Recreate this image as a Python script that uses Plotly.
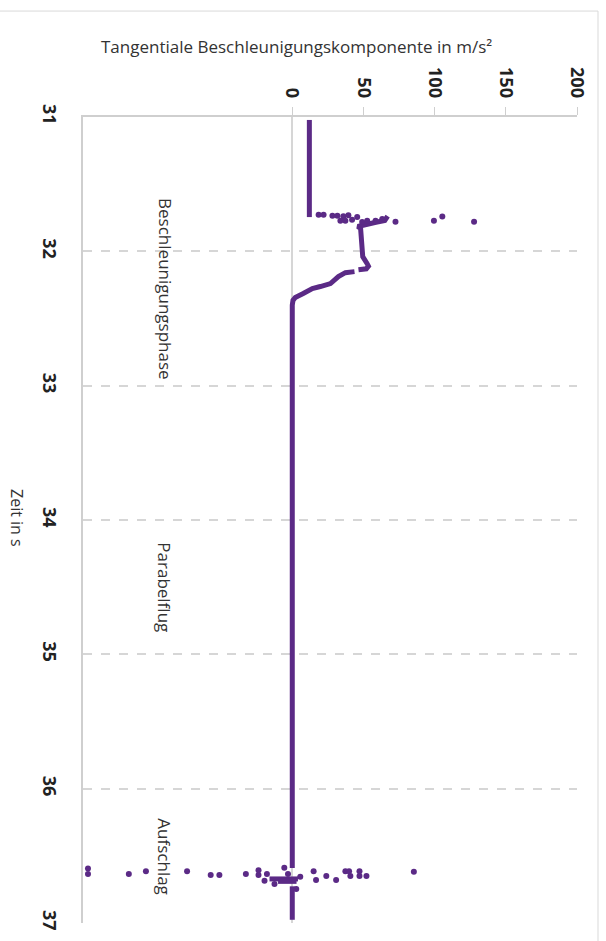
import plotly.graph_objects as go

# Main continuous signal (time in s, tangential acceleration in m/s^2); None separates segments
line_t = [31.022, 31.745, None,
          31.738, 31.770, 31.785, 31.800, 31.815, 31.830, 31.900, 32.040, 32.090, 32.110, 32.130, 32.137, None,
          32.151, 32.159, 32.188, 32.240, 32.262, 32.277, 32.314, 32.343, 32.365, 32.400, 36.590, None,
          36.672, 36.672, None,
          36.690, 36.690, None,
          36.727, 36.976]
line_v = [12, 12, None,
          67, 65, 58, 50, 46, 48, 48.5, 49.5, 52.5, 53.5, 52, 46.5, None,
          43.7, 37.3, 32.4, 26.8, 19.7, 14.1, 7.7, 2.1, 0.5, 0, 0, None,
          -16, 4, None,
          -10, 3, None,
          0, 0]

# Isolated noisy samples
dots_t = [31.728, 31.728, 31.736, 31.736, 31.738, 31.731, 31.773, 31.773, 31.765, 31.745,
          31.782, 31.773, 31.773, 31.760, 31.780, 31.773, 31.740, 31.780,
          36.594, 36.636, 36.636, 36.614, 36.614, 36.643, 36.643, 36.636, 36.607, 36.643,
          36.636, 36.685, 36.710, 36.589, 36.636, 36.655, 36.747, 36.614, 36.680, 36.651,
          36.680, 36.614, 36.614, 36.651, 36.614, 36.651, 36.651, 36.618]
dots_v = [18.5, 22.0, 28.2, 31.7, 35.9, 39.4, 33.8, 37.3, 42.0, 45.6,
          49.1, 52.6, 58.5, 63.2, 72.5, 99.5, 105.4, 127.7,
          -143.5, -143.5, -114.8, -102.8, -73.9, -57.3, -51.2, -32.6, -23.7, -23.7,
          -17.8, -19.5, -12.5, -5.6, -3.0, 5.6, 2.8, 15.0, 16.7, 23.9,
          30.8, 37.3, 39.9, 40.8, 47.2, 47.2, 52.1, 85.4]

value_ticks = [0, 50, 100, 150, 200]
time_ticks = [31, 32, 33, 34, 35, 36, 37]

phase_labels = ["Beschleunigungsphase", "Parabelflug", "Aufschlag"]
phase_t = [32.28, 34.50, 36.51]
phase_v = [-89.5, -89.5, -89.5]

purple = "#5b2a86"
grey = "#cfcfcf"

fig = go.Figure()
fig.add_trace(go.Scatter(x=line_v, y=line_t, mode="lines",
                         line=dict(color=purple, width=5), hoverinfo="skip"))
fig.add_trace(go.Scatter(x=dots_v, y=dots_t, mode="markers",
                         marker=dict(color=purple, size=6), hoverinfo="skip"))

for lab, t, v in zip(phase_labels, phase_t, phase_v):
    fig.add_annotation(x=v, y=t, text=lab, textangle=90, showarrow=False,
                       xanchor="center", yanchor="middle",
                       font=dict(family="Open Sans", size=17, color="#333333"))

fig.add_annotation(xref="paper", yref="paper", x=(296 - 83) / 494, y=(931 - 46) / 814,
                   xanchor="center", yanchor="middle",
                   text="Tangentiale Beschleunigungskomponente in m/s²", showarrow=False,
                   font=dict(family="Open Sans", size=17, color="#333333"))
fig.add_annotation(xref="paper", yref="paper", x=(17 - 83) / 494, y=(931 - 522) / 814,
                   xanchor="center", yanchor="middle",
                   text="Zeit in s", textangle=90, showarrow=False,
                   font=dict(family="Open Sans", size=16, color="#333333"))

# outer frame (top and right edges)
fig.add_shape(type="line", xref="paper", yref="paper", x0=-0.2, x1=(598 - 83) / 494,
              y0=(931 - 10) / 814, y1=(931 - 10) / 814, line=dict(color="#d9d9d9", width=1))
fig.add_shape(type="line", xref="paper", yref="paper", x0=(598 - 83) / 494, x1=(598 - 83) / 494,
              y0=-0.05, y1=(931 - 10) / 814, line=dict(color="#d9d9d9", width=1))

fig.update_xaxes(side="top", range=[-147, 200], tickvals=value_ticks, tickangle=90,
                 ticks="outside", ticklen=8, tickcolor=grey, showline=True, linecolor=grey,
                 linewidth=1.5, showgrid=False, zeroline=True, zerolinecolor="#d6d6d6",
                 zerolinewidth=2, ticklabelstandoff=3,
                 tickfont=dict(family="Open Sans", size=18, color="#222222", weight="bold"))
fig.update_yaxes(range=[37, 31], tickvals=time_ticks, tickangle=90, ticks="",
                 showline=True, linecolor=grey, linewidth=1.5, showgrid=True, gridcolor="#d6d6d6",
                 griddash="dash", gridwidth=1.5, zeroline=False, ticklabelstandoff=17,
                 tickfont=dict(family="Open Sans", size=18, color="#222222", weight="bold"))

fig.update_layout(width=606, height=941, margin=dict(l=83, r=29, t=117, b=10),
                  paper_bgcolor="white", plot_bgcolor="white", showlegend=False)

fig.write_html("out.html")
